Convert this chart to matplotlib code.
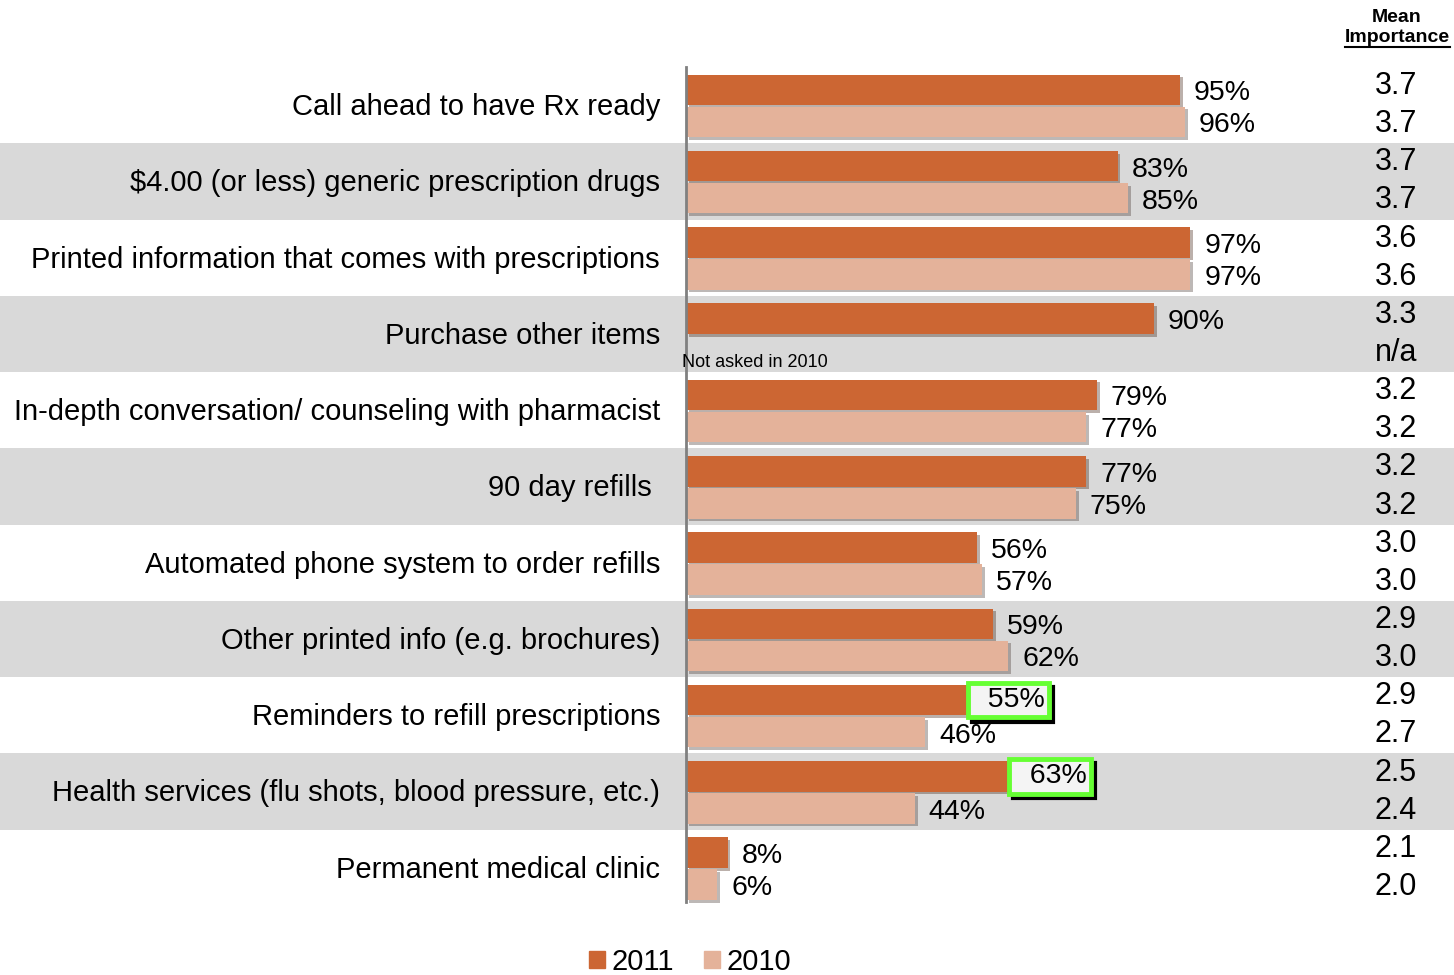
import numpy as np
import matplotlib.pyplot as plt
from matplotlib.patches import Rectangle, Patch
from matplotlib.lines import Line2D
import matplotlib.patheffects as pe

plt.rcParams['font.family'] = ['Liberation Sans', 'DejaVu Sans']

categories = ['Call ahead to have Rx ready',
              '$4.00 (or less) generic prescription drugs',
              'Printed information that comes with prescriptions',
              'Purchase other items',
              'In-depth conversation/ counseling with pharmacist',
              '90 day refills ',
              'Automated phone system to order refills',
              'Other printed info (e.g. brochures)',
              'Reminders to refill prescriptions',
              'Health services (flu shots, blood pressure, etc.)',
              'Permanent medical clinic']
pct_2011 = [95, 83, 97, 90, 79, 77, 56, 59, 55, 63, 8]
pct_2010 = [96, 85, 97, None, 77, 75, 57, 62, 46, 44, 6]
mean_2011 = ['3.7', '3.7', '3.6', '3.3', '3.2', '3.2', '3.0', '2.9', '2.9', '2.5', '2.1']
mean_2010 = ['3.7', '3.7', '3.6', 'n/a', '3.2', '3.2', '3.0', '3.0', '2.7', '2.4', '2.0']
highlight = [8, 9]  # rows with boxed 2011 labels

c11 = '#CC6633'
c10 = '#E4B29A'
band = '#D9D9D9'

W, H = 1454, 975
fig = plt.figure(figsize=(W / 100, H / 100), dpi=100)
ax = fig.add_axes([686 / W, 69 / H, (W - 686) / W, 839 / H])
n = len(categories)
ax.set_ylim(n, 0)
ax.set_xlim(0, 768 / 5.2)
ax.axis('off')

ytr = ax.get_yaxis_transform()
for i in range(n):
    if i % 2 == 1:
        ax.add_patch(Rectangle((-686 / 768, i), W / 768, 1, transform=ytr,
                               facecolor=band, edgecolor='none', clip_on=False, zorder=0))

shadow = [pe.SimplePatchShadow(offset=(2, -2), alpha=0.35), pe.Normal()]
y = np.arange(n)
v11 = np.array(pct_2011, dtype=float)
v10 = np.array([np.nan if v is None else v for v in pct_2010])
b1 = ax.barh(y + 0.3, v11, height=0.4, color=c11, zorder=2)
b2 = ax.barh(y + 0.72, np.nan_to_num(v10), height=0.4, color=c10, zorder=2)
for r in list(b1) + list(b2):
    r.set_path_effects(shadow)

ax.plot([0, 0], [0, n - 0.05], color='#808080', lw=2, zorder=3, clip_on=False)

for i in range(n):
    ax.text(-26 / 768, i + 0.525, categories[i], transform=ytr, ha='right', va='center',
            fontsize=21)
    if i in highlight:
        ax.annotate(f'  {pct_2011[i]}%', (v11[i], i + 0.3), xytext=(3, -3),
                    textcoords='offset points', ha='left', va='center', fontsize=20.5,
                    color='black', zorder=4,
                    bbox=dict(boxstyle='square,pad=0.15', fc='black', ec='black', lw=3))
        ax.annotate(f'  {pct_2011[i]}%', (v11[i], i + 0.3), xytext=(0, 0),
                    textcoords='offset points', ha='left', va='center', fontsize=20.5,
                    zorder=5,
                    bbox=dict(boxstyle='square,pad=0.15', fc='#F4F4F4', ec='#66FF33', lw=3.5))
    else:
        ax.annotate(f'{pct_2011[i]}%', (v11[i], i + 0.3), xytext=(10, -2.5),
                    textcoords='offset points', ha='left', va='center', fontsize=20.5, zorder=4)
    if pct_2010[i] is not None:
        ax.annotate(f'{pct_2010[i]}%', (v10[i], i + 0.72), xytext=(10, -2.5),
                    textcoords='offset points', ha='left', va='center', fontsize=20.5, zorder=4)
    else:
        ax.text(-4 / 768, i + 0.87, 'Not asked in 2010', transform=ytr, ha='left',
                va='center', fontsize=13, zorder=4)
    ax.text(710 / 768, i + 0.25, mean_2011[i], transform=ytr, ha='center', va='center',
            fontsize=22)
    ax.text(710 / 768, i + 0.75, mean_2010[i], transform=ytr, ha='center', va='center',
            fontsize=22)

fig.text(1397 / W, 1 - 18 / H, 'Mean', ha='center', va='center', fontsize=14,
         fontweight='bold')
fig.text(1397 / W, 1 - 37 / H, 'Importance', ha='center', va='center', fontsize=14,
         fontweight='bold')
fig.add_artist(Line2D([1345 / W, 1450 / W], [1 - 47 / H, 1 - 47 / H], color='black', lw=1.5))

handles = [Patch(color=c11, label='2011'), Patch(color=c10, label='2010')]
fig.legend(handles=handles, loc='center', bbox_to_anchor=(690 / W, 1 - 962 / H), ncol=2,
           frameon=False, fontsize=21, handlelength=0.55, handleheight=0.55,
           handletextpad=0.25, columnspacing=1.0, borderaxespad=0, borderpad=0)

fig.savefig('out.png', dpi=100)
